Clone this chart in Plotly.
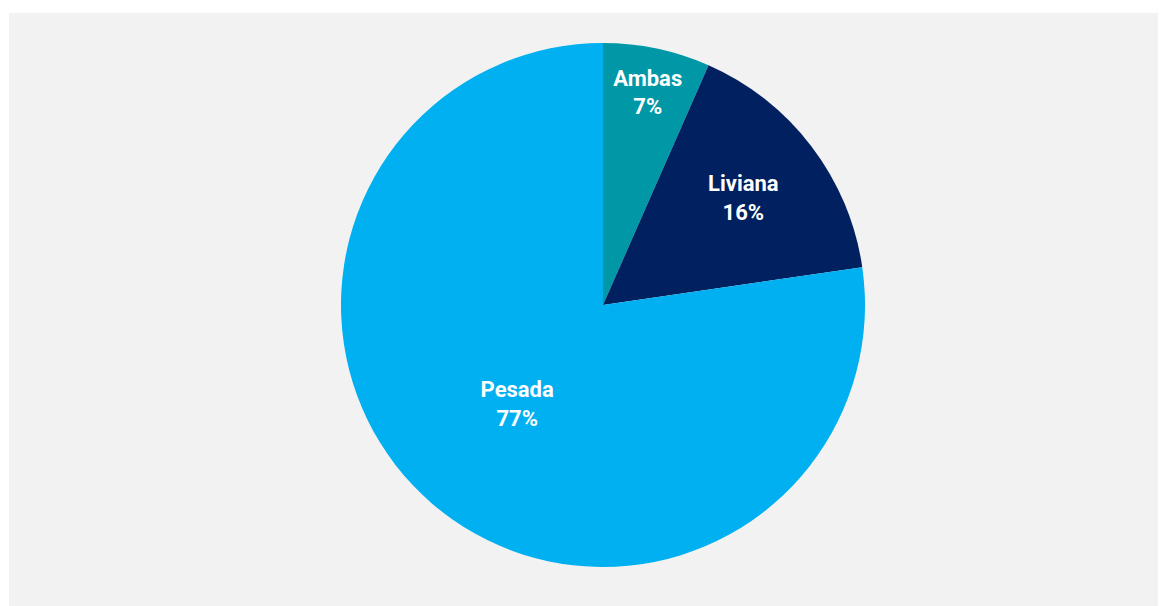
import plotly.graph_objects as go

categories = ["Ambas", "Liviana", "Pesada"]
values = [6.6, 16.1, 77.3]
colors = ["#0097A7", "#002060", "#00B0F0"]

W, H = 1167, 606
ml, mr, mt, mb = 9, 9, 13, 0
pw, ph = W - ml - mr, H - mt - mb
cx, cy, r = 603, 305, 262

dx0 = (cx - r - ml) / pw
dx1 = (cx + r - ml) / pw
dy0 = (H - (cy + r) - mb) / ph
dy1 = (H - (cy - r) - mb) / ph

fig = go.Figure(go.Pie(
    labels=categories,
    values=values,
    sort=False,
    direction="clockwise",
    rotation=0,
    marker=dict(colors=colors, line=dict(width=0)),
    texttemplate="<b>%{label}</b><br><b>%{percent:.0%}</b>",
    textposition="inside",
    insidetextorientation="horizontal",
    textfont=dict(family="Roboto", size=22, color="white"),
    hoverinfo="label+percent",
    domain=dict(x=[dx0, dx1], y=[dy0, dy1]),
    showlegend=False,
))

fig.update_layout(
    width=W, height=H,
    margin=dict(l=ml, r=mr, t=mt, b=mb),
    paper_bgcolor="white",
    shapes=[dict(type="rect", xref="paper", yref="paper", x0=0, x1=1, y0=0, y1=1,
                 fillcolor="#F2F2F2", line=dict(width=0), layer="below")],
    uniformtext=dict(minsize=22, mode="show"),
)

fig.write_html("out.html")
